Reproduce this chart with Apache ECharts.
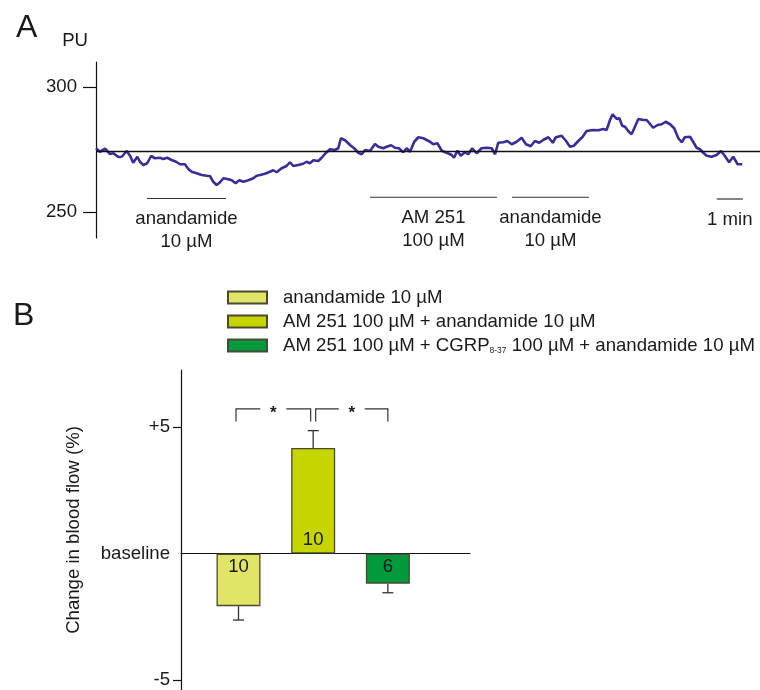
<!DOCTYPE html>
<html>
<head>
<meta charset="utf-8">
<script src="https://cdn.jsdelivr.net/npm/echarts@6/dist/echarts.min.js"></script>
<style>
  html, body { margin: 0; padding: 0; background: #fff; }
  #chart { width: 760px; height: 690px; }
</style>
</head>
<body>
<div id="chart"></div>
<script>
// ---------- Panel A: blood flow trace ----------
const traceTime = [0.00,0.15,0.35,0.54,0.67,0.86,0.99,1.18,1.31,1.43,
1.59,1.69,1.82,1.97,2.12,2.27,2.46,2.59,2.74,2.91,
3.08,3.23,3.42,3.55,3.68,3.87,4.07,4.26,4.38,4.51,
4.64,4.77,4.90,5.09,5.22,5.37,5.51,5.67,5.86,6.05,
6.18,6.31,6.50,6.69,6.82,6.95,7.14,7.33,7.46,7.59,
7.78,7.97,8.10,8.23,8.36,8.55,8.68,8.83,9.00,9.19,
9.32,9.42,9.58,9.77,9.93,10.09,10.22,10.35,10.54,10.73,
10.86,11.05,11.18,11.35,11.50,11.65,11.82,11.95,12.08,12.24,
12.40,12.59,12.85,12.97,13.13,13.30,13.49,13.68,13.77,13.90,
14.03,14.19,14.32,14.47,14.64,14.83,15.03,15.22,15.35,15.47,
15.67,15.82,15.99,16.18,16.37,16.54,16.72,16.88,17.05,17.20,
17.40,17.57,17.69,17.91,18.08,18.23,18.38,18.55,18.72,18.87,
18.93,19.13,19.32,19.51,19.64,19.77,19.87,20.03,20.13,20.24,
20.35,20.47,20.60,20.73,20.86,21.05,21.18,21.31,21.43,21.60,
21.76,21.91,22.08,22.24,22.40,22.53,22.65,22.85,22.97,23.10,
23.23,23.36,23.49,23.68,23.87,24.04,24.19,24.35,24.51,24.68,
24.86];
const tracePU = [275.5,274.1,275.3,273.2,273.5,272.0,272.1,274.4,272.5,269.7,
272.1,270.1,268.8,269.5,272.4,271.5,271.7,271.2,271.7,270.8,
270.1,269.1,269.1,267.2,266.1,265.5,264.8,264.5,264.4,262.1,
260.8,261.9,263.5,263.1,262.7,261.5,262.7,262.1,262.7,263.5,
264.5,264.8,265.3,266.1,266.7,265.9,267.5,268.4,269.9,268.4,
268.8,269.3,270.1,269.5,270.7,270.4,271.7,273.5,275.1,274.8,
275.5,279.5,278.7,276.8,275.5,273.7,273.1,274.8,274.4,277.2,
276.1,275.5,276.1,276.7,275.7,275.5,273.9,275.5,274.1,278.1,
279.9,279.5,278.1,277.1,277.5,274.5,273.7,272.8,271.7,274.5,
272.5,273.9,273.1,275.5,273.5,275.5,275.7,275.5,273.1,277.7,
277.9,278.4,277.1,278.1,279.7,277.1,276.3,278.4,277.7,278.8,
279.9,277.7,279.9,280.5,278.4,276.1,276.5,278.4,280.1,282.4,
282.7,282.8,282.7,283.2,282.8,286.8,289.1,287.2,287.5,284.5,
284.1,282.4,281.1,284.1,287.2,286.8,286.8,285.2,283.7,284.8,
285.1,286.1,285.1,283.5,279.5,277.9,279.9,280.1,278.1,275.7,
275.1,273.7,272.5,272.1,272.8,274.4,272.4,269.9,272.1,269.1,
269.1];
const baselinePU = 274.4;
const puTicks = [250, 300];
// application periods (min) and the 1-min scale bar
const periodStart = [1.96, 10.54, 16.0, 23.88];
const periodEnd   = [5.00, 15.42, 18.96, 24.88];
const periodLevel = [255.4, 255.9, 255.9, 255.2];
const periodLabels = ['anandamide\n10 µM', 'AM 251\n100 µM', 'anandamide\n10 µM', '1 min'];

// ---------- Panel B: bar chart ----------
const groupNames = ['anandamide 10 µM', 'AM 251 100 µM + anandamide 10 µM', 'AM 251 100 µM + CGRP8-37 100 µM + anandamide 10 µM'];
const groupPos = [1, 2, 3];
const meanChange = [-2.08, 4.18, -1.19];
const semChange = [0.55, 0.69, 0.36];
const nCounts = ['10', '10', '6'];
const barColors = ['#e1e567', '#c6d500', '#009a3d'];
const comparisons = [[1, 2], [2, 3]];
const sigLabels = ['*', '*'];
const bracketTop = 5.73;
const bracketLeg = 5.23;
const pctTicks = [-5, 0, 5];

const FONT = "'Liberation Sans', Arial, sans-serif";
const TXT = '#1a1a1a';
const FS = 18.6;

const chart = echarts.init(document.getElementById('chart'), null, {renderer: 'canvas'});

const traceData = traceTime.map((t, i) => [t, tracePU[i]]);
const periodData = periodStart.map((s, i) => [s, periodEnd[i], periodLevel[i], i]);

const barSeries = groupNames.map((name, i) => ({
  name: name,
  type: 'bar',
  xAxisIndex: 1, yAxisIndex: 1,
  barWidth: 44,
  barGap: '-100%',
  z: 3,
  itemStyle: { color: barColors[i], borderColor: '#4a4a33', borderWidth: 1.3 },
  label: {
    show: true,
    position: meanChange[i] < 0 ? 'insideTop' : 'insideBottom',
    distance: 4,
    formatter: () => nCounts[i],
    fontSize: FS, fontFamily: FONT, color: TXT
  },
  data: [[groupPos[i], meanChange[i]]]
}));

const option = {
  animation: false,
  textStyle: { fontFamily: FONT },
  title: [
    { text: 'A', left: 16, top: 12, padding: 0, textStyle: { fontSize: 32, fontWeight: 'normal', color: TXT, fontFamily: FONT } },
    { text: 'B', left: 13, top: 300, padding: 0, textStyle: { fontSize: 32, fontWeight: 'normal', color: TXT, fontFamily: FONT } }
  ],
  legend: {
    orient: 'vertical',
    left: 222, top: 283,
    itemWidth: 39, itemHeight: 12,
    itemGap: 5,
    icon: 'rect',
    data: groupNames,
    formatter: (name) => name.replace('CGRP8-37', 'CGRP{sub|8-37}'),
    textStyle: {
      fontSize: FS, fontFamily: FONT, color: TXT, lineHeight: 19,
      padding: [0, 0, 0, 11],
      rich: { sub: { fontSize: 8.5, fontFamily: FONT, color: TXT, verticalAlign: 'bottom', lineHeight: 10, padding: [7, 0, 0, 0] } }
    }
  },
  grid: [
    { left: 96, right: 0, top: 62, height: 176 },
    { left: 181, width: 289, top: 370, height: 320 }
  ],
  xAxis: [
    { gridIndex: 0, type: 'value', min: 0, max: 25.54, show: false },
    { gridIndex: 1, type: 'value', min: 0.23, max: 4.1,
      axisLine: { show: true, onZero: true, lineStyle: { color: '#111', width: 1.2 } },
      axisTick: { show: false }, axisLabel: { show: false }, splitLine: { show: false } }
  ],
  yAxis: [
    { gridIndex: 0, type: 'value', min: 239.6, max: 310,
      name: 'PU', nameLocation: 'end', nameGap: 12,
      nameTextStyle: { fontSize: FS, color: TXT, fontFamily: FONT, align: 'right', padding: [0, 8, 0, 0] },
      axisLine: { show: true, lineStyle: { color: '#111', width: 1.2 } },
      axisTick: { show: true, length: 13, customValues: puTicks, lineStyle: { color: '#111', width: 1.2 } },
      axisLabel: { show: true, margin: 19, customValues: puTicks, fontSize: FS, color: TXT, fontFamily: FONT },
      splitLine: { show: false } },
    { gridIndex: 1, type: 'value', min: -5.4, max: 7.27,
      name: 'Change in blood flow (%)', nameLocation: 'middle', nameGap: 98,
      nameTextStyle: { fontSize: FS, color: TXT, fontFamily: FONT },
      axisLine: { show: true, onZero: false, lineStyle: { color: '#111', width: 1.2 } },
      axisTick: { show: true, length: 8, customValues: [-5, 5], lineStyle: { color: '#111', width: 1.2 } },
      axisLabel: { show: true, margin: 11, customValues: pctTicks, fontSize: FS, color: TXT, fontFamily: FONT,
        formatter: (v) => v === 0 ? 'baseline' : (v > 0 ? '+' + v : String(v)) },
      splitLine: { show: false } }
  ],
  series: [
    {
      name: 'trace', type: 'line', xAxisIndex: 0, yAxisIndex: 0,
      showSymbol: false, symbol: 'none',
      lineStyle: { color: '#372e96', width: 2.6 },
      data: traceData,
      z: 3,
      markLine: {
        silent: true, symbol: 'none', label: { show: false },
        lineStyle: { color: '#111', width: 1.3, type: 'solid' },
        data: [{ yAxis: baselinePU }]
      }
    },
    {
      name: 'periods', type: 'custom', xAxisIndex: 0, yAxisIndex: 0,
      data: periodData,
      renderItem: (params, api) => {
        const a = api.coord([api.value(0), api.value(2)]);
        const b = api.coord([api.value(1), api.value(2)]);
        const idx = api.value(3);
        return { type: 'group', children: [
          { type: 'line', shape: { x1: a[0], y1: a[1], x2: b[0], y2: b[1] }, style: { stroke: '#333', lineWidth: 1.2 } },
          { type: 'text', x: (a[0] + b[0]) / 2, y: a[1] + 9,
            style: { text: periodLabels[idx], fill: TXT, font: FS + 'px ' + FONT, align: 'center', verticalAlign: 'top', lineHeight: 23 } }
        ]};
      }
    },
    ...barSeries,
    {
      name: 'sem', type: 'custom', xAxisIndex: 1, yAxisIndex: 1, z: 2,
      data: groupPos.map((x, i) => [x, meanChange[i], semChange[i]]),
      renderItem: (params, api) => {
        const x = api.value(0), m = api.value(1), e = api.value(2);
        const end = m >= 0 ? m + e : m - e;
        const p0 = api.coord([x, m]), p1 = api.coord([x, end]);
        const st = { stroke: '#333', lineWidth: 1.3 };
        return { type: 'group', children: [
          { type: 'line', shape: { x1: p0[0], y1: p0[1], x2: p1[0], y2: p1[1] }, style: st },
          { type: 'line', shape: { x1: p1[0] - 5.5, y1: p1[1], x2: p1[0] + 5.5, y2: p1[1] }, style: st }
        ]};
      }
    },
    {
      name: 'sig', type: 'custom', xAxisIndex: 1, yAxisIndex: 1, z: 2,
      data: comparisons.map((c, i) => [c[0], c[1], bracketTop, bracketLeg, i]),
      renderItem: (params, api) => {
        const i = api.value(4);
        const a = api.coord([api.value(0), api.value(2)]);
        const b = api.coord([api.value(1), api.value(2)]);
        const leg = api.coord([api.value(0), api.value(3)])[1];
        const xl = a[0] + (i === 0 ? -2.5 : 2.5);
        const xr = b[0] + (i === 0 ? -2.5 : 0);
        const y = a[1];
        const mid = (xl + xr) / 2;
        const st = { stroke: '#333', lineWidth: 1.2, fill: null };
        return { type: 'group', children: [
          { type: 'polyline', shape: { points: [[xl, leg], [xl, y], [mid - 13, y]] }, style: st },
          { type: 'polyline', shape: { points: [[mid + 13, y], [xr, y], [xr, leg]] }, style: st },
          { type: 'text', x: mid, y: y + 4, style: { text: sigLabels[i], fill: TXT, font: 'bold 17px ' + FONT, align: 'center', verticalAlign: 'middle' } }
        ]};
      }
    }
  ]
};
chart.setOption(option);
</script>
</body>
</html>
